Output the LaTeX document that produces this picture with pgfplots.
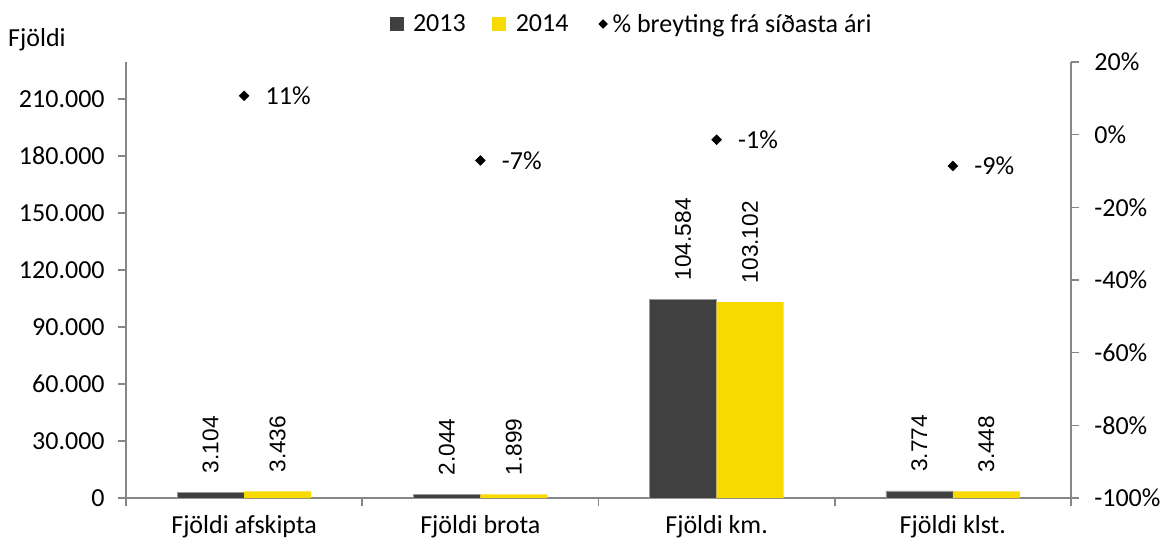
\documentclass[border=0pt]{standalone}
\usepackage{pgfplots}
\pgfplotsset{compat=1.18}
\usepackage{fontspec}
\setmainfont{Carlito}
\newfontfamily\arialfont{Liberation Sans}
\definecolor{dk}{HTML}{404040}
\definecolor{yl}{HTML}{F7DA00}
\definecolor{axc}{HTML}{868686}
\newcommand{\cf}{\fontsize{19.5}{23}\selectfont}
\newcommand{\af}{\arialfont\fontsize{17}{20}\selectfont}

\begin{document}
\begin{tikzpicture}[x=1pt,y=1pt]
\useasboundingbox (-94.5,-34.5) rectangle (780,373.5);
\begin{axis}[
  at={(0,0)}, anchor=south west,
  scale only axis, width=708.75pt, height=327pt,
  xmin=-0.5, xmax=3.5, ymin=0, ymax=229474,
  axis x line*=bottom, axis y line*=left,
  axis line style={axc, line width=1.2pt},
  xtick={0,1,2,3},
  xticklabels={Fjöldi afskipta, Fjöldi brota, Fjöldi km., Fjöldi klst.},
  minor xtick={-0.5,0.5,1.5,2.5,3.5},
  major x tick style={draw=none},
  minor x tick style={axc, line width=1.2pt},
  minor tick length=6pt,
  major tick length=6pt,
  ytick={0,30000,60000,90000,120000,150000,180000,210000},
  y tick style={axc, line width=1.2pt},
  tick align=outside,
  scaled y ticks=false,
  yticklabel={\pgfmathprintnumber[fixed,1000 sep={.},assume math mode=true]{\tick}},
  tick label style={font=\cf, black},
  yticklabel style={xshift=-6.5pt},
  xticklabel style={yshift=-3.5pt},
  ybar=0pt, bar width=50.25pt,
  nodes near coords={\pgfmathprintnumber[fixed,1000 sep={.},assume math mode=true]{\pgfplotspointmeta}},
  every node near coord/.append style={font=\af, black, rotate=90, anchor=west, inner xsep=14pt, inner ysep=0pt},
  clip=false,
]
\addplot[fill=dk, draw=black!40, line width=0.5pt] coordinates {(0,3104) (1,2044) (2,104584) (3,3774)};
\addplot[fill=yl, draw=none] coordinates {(0,3436) (1,1899) (2,103102) (3,3448)};
\node[anchor=west, font=\cf, inner sep=0pt] at (rel axis cs:-0.1249,1.05) {Fjöldi};
\end{axis}
\begin{axis}[
  at={(0,0)}, anchor=south west,
  scale only axis, width=708.75pt, height=327pt,
  xmin=-0.5, xmax=3.5, ymin=-100, ymax=20,
  axis x line=none, axis y line*=right,
  axis line style={axc, line width=1.2pt},
  ytick={-100,-80,-60,-40,-20,0,20},
  y tick style={axc, line width=1.2pt},
  major tick length=6pt,
  tick align=outside,
  yticklabel={\pgfmathprintnumber[assume math mode=true]{\tick}\%},
  tick label style={font=\cf, black},
  yticklabel style={xshift=8pt},
  legend style={at={(0.5354,1.0872)}, anchor=center, draw=none, font=\cf,
    legend columns=3,
    /tikz/every odd column/.append style={column sep=5pt},
    /tikz/every even column/.append style={column sep=18pt}},
  legend cell align=left,
  clip=false,
]
\addlegendimage{legend image code/.code={\fill[dk,draw=none] (0pt,-5.25pt) rectangle (10.5pt,5.25pt);}}
\addlegendentry{2013}
\addlegendimage{legend image code/.code={\fill[yl,draw=none] (0pt,-5.25pt) rectangle (10.5pt,5.25pt);}}
\addlegendentry{2014}
\addlegendimage{legend image code/.code={\fill[black,draw=none,overlay] (3.6pt,0pt) -- (0pt,3.6pt) -- (-3.6pt,0pt) -- (0pt,-3.6pt) -- cycle; \path[draw=none,fill=none] (-6pt,-5.25pt) rectangle (0.1pt,5.25pt);}}
\addlegendentry{\% breyting frá síðasta ári}
\addplot[only marks, mark=square*, mark size=2.6pt, mark options={rotate=45}, black,
  point meta=explicit symbolic,
  nodes near coords,
  every node near coord/.append style={font=\cf, black, anchor=west, inner sep=0pt, xshift=16pt},
  forget plot]
  coordinates {(0,10.7) [11\%] (1,-7.1) [-7\%] (2,-1.4) [-1\%] (3,-8.6) [-9\%]};
\end{axis}
\end{tikzpicture}
\end{document}
